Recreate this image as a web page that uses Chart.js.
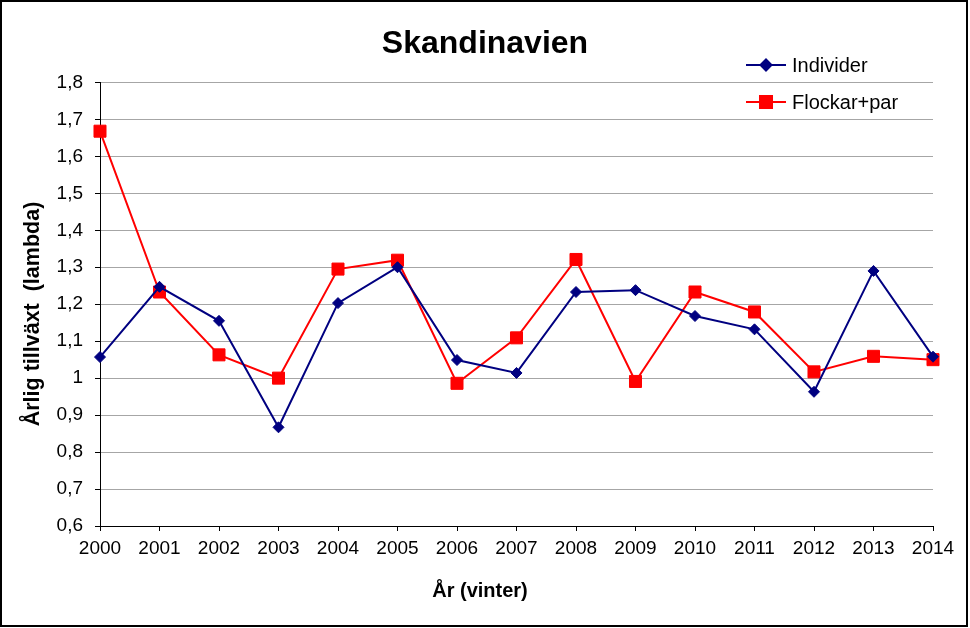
<!DOCTYPE html>
<html lang="sv">

<head>
  <meta charset="UTF-8" />
  <meta name="viewport" content="width=device-width, initial-scale=1.0" />
  <title>Skandinavien</title>
  <style>
    body { margin: 0; background: #fff; }
  </style>
</head>

<body>

  <div style="width: 970px; height: 628px;">
    <canvas id="myChart" width="970" height="628"></canvas>
  </div>

  <script src="https://cdn.jsdelivr.net/npm/chart.js"></script>

  <script type="text/javascript">
    // data
    const years = ['2000', '2001', '2002', '2003', '2004', '2005', '2006', '2007',
      '2008', '2009', '2010', '2011', '2012', '2013', '2014'];
    const individer = [1.057, 1.247, 1.155, 0.867, 1.203, 1.300, 1.049, 1.014,
      1.233, 1.238, 1.168, 1.132, 0.963, 1.290, 1.058];
    const flockarPar = [1.668, 1.233, 1.063, 1.000, 1.295, 1.319, 0.986, 1.109,
      1.321, 0.991, 1.233, 1.179, 1.017, 1.059, 1.050];
    const yMin = 0.6;
    const yMax = 1.8;
    const yStep = 0.1;

    const FONT = "'Liberation Sans', Arial, sans-serif";

    // tick label like Excel: "1,8", "1", "0,9"
    function commaLabel(v) {
      return String(Number(v.toFixed(1))).replace('.', ',');
    }

    // legend, axis titles and outer frame, drawn by hand
    const extras = {
      id: 'extras',
      afterDraw(chart) {
        const ctx = chart.ctx;
        ctx.save();
        chart.data.datasets.forEach((ds, i) => {
          const y = 65 + i * 37;
          ctx.strokeStyle = ds.borderColor;
          ctx.lineWidth = 2;
          ctx.beginPath();
          ctx.moveTo(746, y);
          ctx.lineTo(786, y);
          ctx.stroke();
          ctx.fillStyle = ds.backgroundColor;
          Chart.helpers.drawPoint(ctx, {
            pointStyle: ds.pointStyle, radius: ds.pointRadius,
            rotation: 0, borderWidth: 1
          }, 766, y);
          ctx.fillStyle = '#000';
          ctx.font = '20px ' + FONT;
          ctx.textAlign = 'left';
          ctx.textBaseline = 'middle';
          ctx.fillText(ds.label, 792, y + 1);
        });

        ctx.fillStyle = '#000';
        ctx.textAlign = 'center';
        ctx.textBaseline = 'middle';
        ctx.font = 'bold 20px ' + FONT;
        ctx.fillText('År (vinter)', 480, 591);

        ctx.save();
        ctx.translate(33, 314);
        ctx.rotate(-Math.PI / 2);
        ctx.font = 'bold 21.5px ' + FONT;
        ctx.fillText('Årlig tillväxt  (lambda)', 0, 0);
        ctx.restore();

        ctx.strokeStyle = '#000';
        ctx.lineWidth = 2;
        ctx.strokeRect(1, 1, 966, 625);
        ctx.restore();
      }
    };

    const data = {
      labels: years,
      datasets: [
        {
          label: 'Individer',
          data: individer,
          borderColor: '#000080',
          backgroundColor: '#000080',
          borderWidth: 2,
          pointStyle: 'rectRot',
          pointRadius: 5.5,
          pointBorderWidth: 1,
          clip: false
        },
        {
          label: 'Flockar+par',
          data: flockarPar,
          borderColor: '#ff0000',
          backgroundColor: '#ff0000',
          borderWidth: 2,
          pointStyle: 'rect',
          pointRadius: 8.5,
          pointBorderWidth: 1,
          clip: false
        }
      ]
    };

    var context = document.getElementById('myChart').getContext('2d');
    var myChart = new Chart(context, {
      type: 'line',
      data: data,
      plugins: [extras],
      options: {
        responsive: false,
        animation: false,
        layout: { padding: 0 },
        elements: { line: { tension: 0 } },
        plugins: {
          legend: { display: false },
          tooltip: { enabled: false },
          title: {
            display: true,
            text: 'Skandinavien',
            color: '#000',
            font: { family: FONT, size: 32, weight: 'bold' },
            padding: { top: 25, bottom: 19 }
          }
        },
        scales: {
          x: {
            offset: false,
            afterFit: (s) => { s.height = 102; s.paddingRight = 37; },
            grid: { drawOnChartArea: false, tickColor: '#000', tickLength: 5 },
            border: { color: '#000', width: 1 },
            ticks: {
              color: '#000', font: { family: FONT, size: 19 },
              padding: 6, maxRotation: 0, autoSkip: false
            }
          },
          y: {
            min: yMin,
            max: yMax,
            afterFit: (s) => { s.width = 100; },
            grid: { color: '#a6a6a6', tickColor: '#000', tickLength: 5 },
            border: { color: '#000', width: 1 },
            ticks: {
              stepSize: yStep,
              color: '#000', font: { family: FONT, size: 19 },
              padding: 12,
              callback: (v) => commaLabel(v)
            }
          }
        }
      }
    });
  </script>

</body>
</html>
